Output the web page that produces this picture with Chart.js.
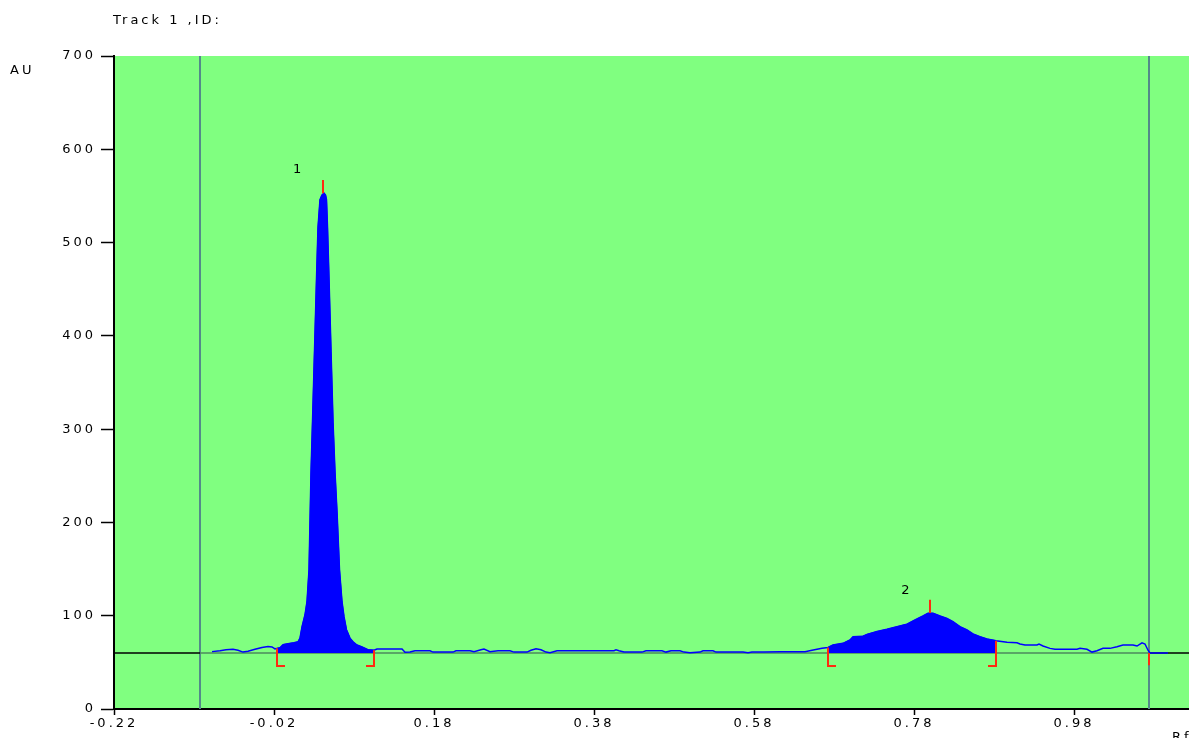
<!DOCTYPE html>
<html>
<head>
<meta charset="utf-8">
<script src="https://cdn.jsdelivr.net/npm/chart.js@4.4.1/dist/chart.umd.min.js"></script>
<style>
  html, body { margin: 0; padding: 0; background: #fff; }
  #wrap { width: 1189px; height: 738px; }
</style>
</head>
<body>
<div id="wrap"><canvas id="chart" width="1189" height="738"></canvas></div>
<script>
// densitogram of track 1 : Rf positions and detector response (AU)
const rf = [
  -0.0975, -0.0875, -0.08, -0.07125, -0.065, -0.05875, -0.0525, -0.04375, -0.035, -0.0275,
  -0.0225, -0.01875, -0.01625, -0.0125, -0.00875, -0.0025, 0.005, 0.01, 0.0125, 0.015,
  0.01875, 0.02125, 0.02375, 0.02625, 0.0281, 0.0306, 0.0331, 0.035, 0.0375, 0.04,
  0.0425, 0.0444, 0.0456, 0.0469, 0.0488, 0.0513, 0.0538, 0.0563, 0.0588, 0.0619,
  0.065, 0.0675, 0.0706, 0.075, 0.07875, 0.08375, 0.09, 0.0975, 0.105, 0.10875,
  0.125, 0.14, 0.14375, 0.15, 0.15625, 0.175, 0.17875, 0.20375, 0.2075, 0.225,
  0.23, 0.23875, 0.2425, 0.25, 0.26, 0.275, 0.28, 0.29625, 0.30125, 0.3075,
  0.31375, 0.32, 0.325, 0.33375, 0.405, 0.4075, 0.41125, 0.4175, 0.44, 0.445,
  0.465, 0.47, 0.47625, 0.4875, 0.4925, 0.5, 0.5125, 0.51625, 0.52875, 0.5325,
  0.56625, 0.5725, 0.5775, 0.5925, 0.6125, 0.64375, 0.6525, 0.65875, 0.665, 0.6725,
  0.67875, 0.69125, 0.7, 0.70375, 0.71625, 0.72125, 0.73375, 0.74625, 0.75875, 0.77125,
  0.78125, 0.79125, 0.7975, 0.80375, 0.8125, 0.82125, 0.82875, 0.8375, 0.84625, 0.85375,
  0.8625, 0.87125, 0.8825, 0.89625, 0.90875, 0.9125, 0.91875, 0.93375, 0.93625, 0.94125,
  0.95, 0.95625, 0.97125, 0.98375, 0.9875, 0.99625, 1.0025, 1.00875, 1.01625, 1.025,
  1.03375, 1.04125, 1.05375, 1.05875, 1.065, 1.06875, 1.0725, 1.075, 1.0975
];
const au = [
  61.5, 62.5, 63.5, 64, 63, 61, 62, 64, 66, 67,
  66.5, 64.5, 65, 65.7, 69, 70, 71, 72, 76, 88,
  101, 115, 149, 253, 307, 383, 460, 516, 546, 551,
  553, 551, 546, 516, 460, 383, 307, 253, 211, 149,
  115, 99, 85, 76, 72, 68.6, 66.5, 63.5, 63, 64.3,
  64.3, 64.3, 60.8, 61, 62.5, 62.5, 61, 61, 62.5, 62.5,
  61.5, 63.5, 64.3, 61.5, 62.5, 62.5, 61, 61, 63, 64.6,
  63.5, 61, 60.3, 62.5, 62.5, 63.5, 62.5, 61, 61, 62.5,
  62.5, 61, 62.5, 62.5, 61, 60.3, 61, 62.5, 62.5, 61,
  61, 60.3, 61, 61, 61.4, 61.4, 63, 64, 65, 66,
  68.6, 70.4, 74, 77.5, 78, 80, 83, 85.4, 88.2, 91,
  95.4, 99.7, 102.6, 102.6, 99.7, 97, 93.6, 88.2, 84.7, 80.4,
  77.5, 75, 73.2, 71.5, 71, 69.7, 68.6, 68.6, 69.7, 67.5,
  65, 64, 64, 64, 65, 64, 61, 62.5, 65, 65,
  66.8, 68.6, 68.6, 67.5, 71, 69.7, 63, 60, 60
];

const baselineAU = 60;
const trackStart = -0.1125;
const trackEnd = 1.07375;
const peakNames = ['1', '2'];
const peakStart = [-0.01625, 0.6725];
const peakEnd = [0.105, 0.8825];
const peakTopRf = [0.04125, 0.80];
const peakTopAU = [553, 103];
const peakNameRf = [0.0094, 0.77];
const peakNameAU = [575, 123];
const xTicks = [-0.22, -0.02, 0.18, 0.38, 0.58, 0.78, 0.98];
const xMin = -0.22, xMax = 1.12375;
const yMin = 0, yMax = 700, yStep = 100;

const BLUE = '#0000ff';
const RED = '#ff2a10';
const TRACK = '#538a8a';
const FONT = "'DejaVu Sans', sans-serif";
const SPACING = '3px';

const trace = rf.map((x, i) => ({ x: x, y: au[i] }));
const curveAt = (x) => au[rf.indexOf(x)];

const datasets = [];

// red integration marks
peakStart.forEach((s, i) => {
  const e = peakEnd[i];
  datasets.push({ data: [{ x: s, y: curveAt(s) }, { x: s, y: 46 }, { x: s + 0.01, y: 46 }], borderColor: RED, borderWidth: 2, order: 0 });
  datasets.push({ data: [{ x: e, y: curveAt(e) }, { x: e, y: 46 }, { x: e - 0.01, y: 46 }], borderColor: RED, borderWidth: 2, order: 0 });
  datasets.push({ data: [{ x: peakTopRf[i], y: peakTopAU[i] }, { x: peakTopRf[i], y: peakTopAU[i] + 14 }], borderColor: RED, borderWidth: 2, order: 0 });
});
datasets.push({ data: [{ x: trackEnd, y: baselineAU }, { x: trackEnd, y: 47 }], borderColor: RED, borderWidth: 2, order: 0 });

// signal
datasets.push({ data: trace, borderColor: BLUE, borderWidth: 1.5, order: 1 });

// filled peak areas
peakStart.forEach((s, i) => {
  datasets.push({
    data: trace.filter(p => p.x >= s && p.x <= peakEnd[i]),
    borderColor: BLUE, backgroundColor: BLUE, borderWidth: 1,
    fill: { value: baselineAU }, order: 2
  });
});

// baseline
datasets.push({
  data: [xMin, trackStart, trackEnd, xMax].map(x => ({ x: x, y: baselineAU })),
  borderColor: '#000', borderWidth: 1.5, order: 3,
  segment: { borderColor: c => c.p0DataIndex === 1 ? '#4d8a5e' : '#000' }
});

// track limits
[trackStart, trackEnd].forEach(x => {
  datasets.push({ data: [{ x: x, y: yMin }, { x: x, y: yMax }], borderColor: TRACK, borderWidth: 2, order: 4 });
});

const decor = {
  id: 'decor',
  beforeDraw(chart) {
    const { ctx, chartArea: a } = chart;
    ctx.letterSpacing = SPACING;
    ctx.save();
    ctx.fillStyle = '#80ff80';
    ctx.fillRect(a.left, a.top, a.right - a.left, a.bottom - a.top);
    ctx.restore();
  },
  afterDraw(chart) {
    const { ctx } = chart;
    const xs = chart.scales.x, ys = chart.scales.y;
    ctx.save();
    ctx.letterSpacing = SPACING;
    ctx.fillStyle = '#000';
    ctx.font = '13px ' + FONT;
    ctx.textBaseline = 'alphabetic';
    ctx.textAlign = 'left';
    ctx.fillText('Track 1 ,ID:', 113, 24);
    ctx.fillText('AU', 10, 74);
    ctx.fillText('Rf', 1172, 741);
    ctx.textAlign = 'center';
    peakNames.forEach((n, i) => {
      ctx.fillText(n, xs.getPixelForValue(peakNameRf[i]) + 1, ys.getPixelForValue(peakNameAU[i]));
    });
    ctx.restore();
  }
};

new Chart(document.getElementById('chart'), {
  type: 'line',
  data: { datasets: datasets },
  options: {
    responsive: false,
    animation: false,
    layout: { padding: { top: 56, right: 0, bottom: 0, left: 0 } },
    elements: { point: { radius: 0 }, line: { tension: 0 } },
    plugins: { legend: { display: false }, tooltip: { enabled: false } },
    scales: {
      x: {
        type: 'linear', min: xMin, max: xMax,
        afterBuildTicks: s => { s.ticks = xTicks.map(v => ({ value: v })); },
        afterFit: s => { s.height = 29; },
        ticks: { color: '#000', font: { family: FONT, size: 13 }, padding: 1, maxRotation: 0, autoSkip: false,
          callback: v => v.toFixed(2) },
        grid: { drawOnChartArea: false, tickLength: 6, tickColor: '#000', tickWidth: 1.5 },
        border: { color: '#000', width: 2 }
      },
      y: {
        min: yMin, max: yMax,
        afterFit: s => { s.width = 114; },
        ticks: { stepSize: yStep, color: '#000', font: { family: FONT, size: 13 }, padding: 5 },
        grid: { drawOnChartArea: false, tickLength: 13, tickColor: '#000', tickWidth: 1.5 },
        border: { color: '#000', width: 2 }
      }
    }
  },
  plugins: [decor]
});
</script>
</body>
</html>
